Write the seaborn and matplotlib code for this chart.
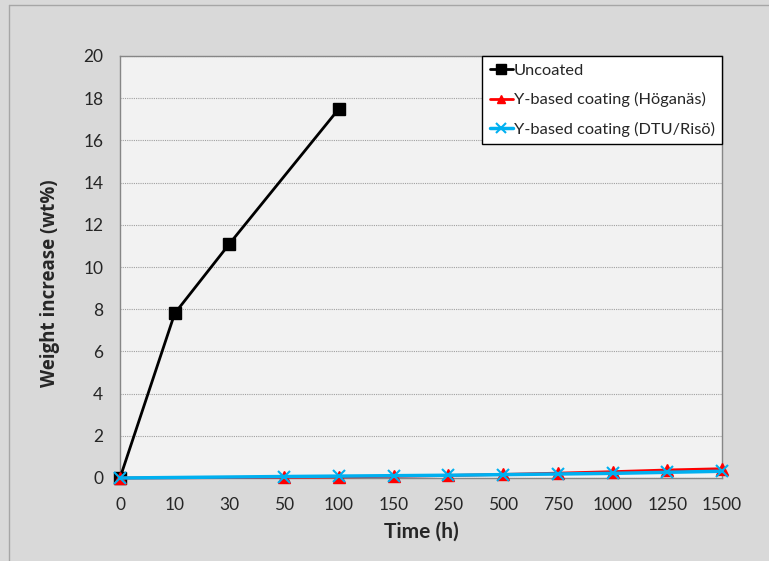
import numpy as np
import pandas as pd
import matplotlib
matplotlib.use("Agg")
import matplotlib.pyplot as plt
import seaborn as sns
from matplotlib.lines import Line2D

categories = ["0", "10", "30", "50", "100", "150", "250", "500", "750", "1000", "1250", "1500"]
uncoated = [0.0, 7.8, 11.1, np.nan, 17.5, np.nan, np.nan, np.nan, np.nan, np.nan, np.nan, np.nan]
hoganas = [0.0, np.nan, np.nan, 0.03, 0.05, 0.08, 0.12, 0.17, 0.23, 0.30, 0.38, 0.44]
dturiso = [0.0, np.nan, np.nan, 0.07, 0.09, 0.11, 0.13, 0.16, 0.19, 0.22, 0.27, 0.32]
series_names = ["Uncoated", "Y-based coating (Höganäs)", "Y-based coating (DTU/Risö)"]
yticks = [0, 2, 4, 6, 8, 10, 12, 14, 16, 18, 20]

sns.set_theme(style="white")
plt.rcParams["font.family"] = ["Lato", "DejaVu Sans"]

fig = plt.figure(figsize=(7.69, 5.61), dpi=100)
fig.patch.set_facecolor("#d9d9d9")
W, H = 769, 561
ax = fig.add_axes([120 / W, 1 - 478 / H, (722 - 120) / W, (478 - 56) / H])
ax.set_facecolor("#f2f2f2")

# outer frame lines
fig.add_artist(Line2D([9 / W, 9 / W], [0, 1 - 5 / H], transform=fig.transFigure, color="#a6a6a6", lw=1))
fig.add_artist(Line2D([9 / W, 1], [1 - 5 / H, 1 - 5 / H], transform=fig.transFigure, color="#a6a6a6", lw=1))

xpos = list(range(len(categories)))
styles = [
    (uncoated, "black", "s", 9, 2.0, 1.0),
    (hoganas, "#ff0000", "^", 8, 2.0, 1.0),
    (dturiso, "#00b0f0", "x", 9, 2.5, 1.5),
]
for name, (vals, col, mk, ms, lw, mew) in zip(series_names, styles):
    df = pd.DataFrame({"x": xpos, "y": vals}).dropna()
    sns.lineplot(data=df, x="x", y="y", ax=ax, color=col, marker=mk, markersize=ms,
                 linewidth=lw, markeredgecolor=col, markeredgewidth=mew, label=name, zorder=3)

ax.set_xlim(0, len(categories) - 1)
ax.set_ylim(0, 20)
ax.set_xticks(xpos)
ax.set_xticklabels(categories, fontsize=12.5)
ax.set_yticks(yticks)
ax.set_yticklabels([str(v) for v in yticks], fontsize=12.5)
ax.tick_params(axis="x", length=0, pad=14)
ax.tick_params(axis="y", length=4, direction="out", color="#868686", pad=8)
ax.grid(axis="y", color="#a0a0a0", linestyle=(0, (1, 1)), linewidth=0.8)
ax.set_axisbelow(True)
for sp in ax.spines.values():
    sp.set_color("#868686")
    sp.set_linewidth(1)
    sp.set_visible(True)
ax.set_xlabel("Time (h)", fontsize=15, fontweight="bold", labelpad=6)
ax.set_ylabel("Weight increase (wt%)", fontsize=13.5, fontweight="bold",
              family=["Open Sans", "DejaVu Sans"])
ax.yaxis.set_label_coords(-60 / 602, 0.462)
for ln in ax.lines:
    ln.set_clip_on(False)

leg = ax.legend(loc="upper right", bbox_to_anchor=(1.0, 1.0), frameon=True, fancybox=False,
                edgecolor="black", facecolor="white", framealpha=1, fontsize=11.8,
                handlelength=1.4, handletextpad=0.05, borderpad=0.45, labelspacing=0.88,
                borderaxespad=0, markerscale=0.75)
leg.get_frame().set_linewidth(1)

fig.savefig("out.png", dpi=100, facecolor=fig.get_facecolor())
